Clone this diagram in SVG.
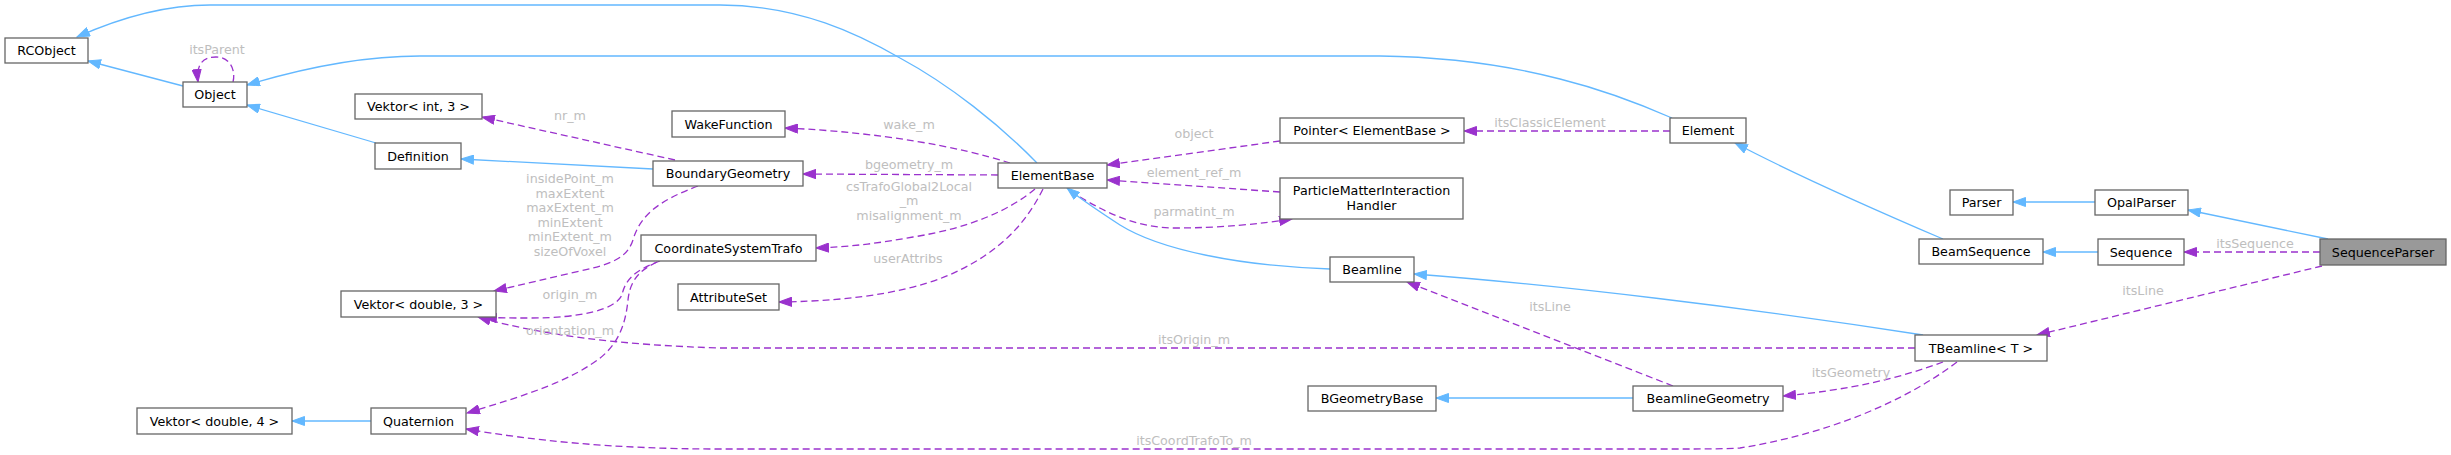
<svg xmlns="http://www.w3.org/2000/svg" width="2451" height="455" viewBox="0 0 2451 455">
<defs>
<style>
.n rect{fill:#fff;stroke:#666;stroke-width:1.3}
.n text{font-family:"DejaVu Sans","Liberation Sans",sans-serif;font-size:12.7px;fill:#000;text-anchor:middle}
.h rect{fill:#999}
.inh{fill:none;stroke:#63b8ff;stroke-width:1.3;marker-end:url(#ab)}
.use{fill:none;stroke:#9a32cd;stroke-width:1.3;stroke-dasharray:7,4;marker-end:url(#ap)}
.lb{font-family:"DejaVu Sans","Liberation Sans",sans-serif;font-size:12.7px;fill:#bebebe;text-anchor:middle}
</style>
<marker id="ab" markerWidth="14" markerHeight="10" refX="13" refY="5" orient="auto" markerUnits="userSpaceOnUse"><path d="M0.5,0.5 L13,5 L0.5,9.5 z" fill="#63b8ff" stroke="#63b8ff" stroke-width="1"/></marker>
<marker id="ap" markerWidth="14" markerHeight="10" refX="13" refY="5" orient="auto" markerUnits="userSpaceOnUse"><path d="M0.5,0.5 L13,5 L0.5,9.5 z" fill="#9a32cd" stroke="#9a32cd" stroke-width="1"/></marker>
</defs>
<rect width="2451" height="455" fill="#fff"/>
<g id="edges">
<path class="inh" d="M183,86 L88,61"/>
<path class="inh" d="M1037,163 C 1000,125 950,85 900,58 C 860,35 800,5 720,5 L 210,5 C 160,5 115,20 77,37"/>
<path class="use" d="M233,82 C 236,70 230,57 216,57 C 203,57 196,64 198,82"/>
<path class="inh" d="M1672,118 C 1640,104 1600,89 1560,79 C 1510,66 1450,57 1380,56 L 420,56 C 360,56 300,69 247,85"/>
<path class="inh" d="M376,143 L247,105"/>
<path class="inh" d="M653,169 L461,159"/>
<path class="use" d="M675,160 L482,117"/>
<path class="use" d="M698,186 C 660,200 640,215 633,240 C 627,258 612,264 580,271 C 550,278 520,285 494,291"/>
<path class="use" d="M1010,163 C 960,147 880,132 785,128"/>
<path class="use" d="M998,175 L803,174"/>
<path class="use" d="M1035,189 C 1010,210 970,228 913,237 C 880,243 850,247 816,248"/>
<path class="use" d="M1043,189 C 1025,225 1000,250 960,270 C 920,290 860,301 779,302"/>
<path class="use" d="M660,261 C 635,270 625,280 622,295 C 615,310 580,318 530,318 C 510,318 495,318 484,317"/>
<path class="use" d="M657,262 C 640,270 630,280 628,300 C 625,330 615,350 590,365 C 560,385 510,400 467,413"/>
<path class="use" d="M1280,141 L1107,165"/>
<path class="use" d="M1280,192 L1107,180"/>
<path class="use" d="M1080,197 C 1110,215 1140,228 1175,228 C 1220,228 1260,224 1292,219"/>
<path class="inh" d="M1330,269 C 1240,266 1160,250 1120,225 C 1100,212 1082,200 1067,188"/>
<path class="use" d="M1670,131 L1464,131"/>
<path class="inh" d="M1943,239 C 1880,212 1790,172 1735,143"/>
<path class="inh" d="M2095,202 L2013,202"/>
<path class="inh" d="M2098,252 L2043,252"/>
<path class="inh" d="M2328,239 L2188,210"/>
<path class="use" d="M2320,252 L2184,252"/>
<path class="use" d="M2322,266 L2037,335"/>
<path class="inh" d="M1923,335 C 1750,308 1560,285 1414,274"/>
<path class="use" d="M1915,348 L 720,348 C 620,345 540,335 478,317"/>
<path class="use" d="M1673,386 L1407,282"/>
<path class="inh" d="M1633,398 L1436,398"/>
<path class="use" d="M1943,362 C 1900,378 1850,390 1783,396"/>
<path class="use" d="M1957,362 C 1920,390 1850,430 1740,448 C 1720,449 1700,449 1680,449 L 720,449 C 610,449 530,440 466,429"/>
<path class="inh" d="M371,421 L292,421"/>
</g>
<g id="labels">
<text class="lb" x="217" y="54">itsParent</text>
<text class="lb" x="570" y="120">nr_m</text>
<text class="lb" x="570" y="183">insidePoint_m</text>
<text class="lb" x="570" y="197.5">maxExtent</text>
<text class="lb" x="570" y="212">maxExtent_m</text>
<text class="lb" x="570" y="226.5">minExtent</text>
<text class="lb" x="570" y="241">minExtent_m</text>
<text class="lb" x="570" y="255.5">sizeOfVoxel</text>
<text class="lb" x="570" y="299">origin_m</text>
<text class="lb" x="570" y="335">orientation_m</text>
<text class="lb" x="909" y="129">wake_m</text>
<text class="lb" x="909" y="169">bgeometry_m</text>
<text class="lb" x="909" y="190.5">csTrafoGlobal2Local</text>
<text class="lb" x="909" y="205">_m</text>
<text class="lb" x="909" y="219.5">misalignment_m</text>
<text class="lb" x="908" y="263">userAttribs</text>
<text class="lb" x="1194" y="138">object</text>
<text class="lb" x="1194" y="177">element_ref_m</text>
<text class="lb" x="1194" y="216">parmatint_m</text>
<text class="lb" x="1550" y="127">itsClassicElement</text>
<text class="lb" x="1550" y="311">itsLine</text>
<text class="lb" x="1194" y="344">itsOrigin_m</text>
<text class="lb" x="1194" y="445">itsCoordTrafoTo_m</text>
<text class="lb" x="1851" y="377">itsGeometry</text>
<text class="lb" x="2255" y="248">itsSequence</text>
<text class="lb" x="2143" y="294.5">itsLine</text>
</g>
<g id="RCObject" class="n"><rect x="5" y="38" width="83" height="25"/><text x="46.5" y="55">RCObject</text></g>
<g id="Object" class="n"><rect x="183" y="82" width="64" height="25"/><text x="215" y="99">Object</text></g>
<g id="VektorInt3" class="n"><rect x="355" y="94" width="127" height="25"/><text x="418.5" y="111">Vektor&lt; int, 3 &gt;</text></g>
<g id="Definition" class="n"><rect x="375" y="143" width="86" height="26"/><text x="418" y="160.5">Definition</text></g>
<g id="BoundaryGeometry" class="n"><rect x="653" y="161" width="150" height="25"/><text x="728" y="178">BoundaryGeometry</text></g>
<g id="WakeFunction" class="n"><rect x="672" y="111" width="113" height="26"/><text x="728.5" y="128.5">WakeFunction</text></g>
<g id="CoordinateSystemTrafo" class="n"><rect x="641" y="235" width="175" height="26"/><text x="728.5" y="252.5">CoordinateSystemTrafo</text></g>
<g id="AttributeSet" class="n"><rect x="678" y="284" width="101" height="26"/><text x="728.5" y="301.5">AttributeSet</text></g>
<g id="VektorDouble3" class="n"><rect x="341" y="291" width="155" height="26"/><text x="418.5" y="308.5">Vektor&lt; double, 3 &gt;</text></g>
<g id="VektorDouble4" class="n"><rect x="137" y="408" width="155" height="26"/><text x="214.5" y="425.5">Vektor&lt; double, 4 &gt;</text></g>
<g id="Quaternion" class="n"><rect x="371" y="408" width="95" height="26"/><text x="418.5" y="425.5">Quaternion</text></g>
<g id="ElementBase" class="n"><rect x="998" y="163" width="109" height="25"/><text x="1052.5" y="180">ElementBase</text></g>
<g id="PointerElementBase" class="n"><rect x="1280" y="118" width="184" height="25"/><text x="1372" y="135">Pointer&lt; ElementBase &gt;</text></g>
<g id="ParticleMatterInteractionHandler" class="n"><rect x="1280" y="178" width="183" height="41"/><text x="1371.5" y="195">ParticleMatterInteraction</text><text x="1371.5" y="209.5">Handler</text></g>
<g id="Element" class="n"><rect x="1670" y="118" width="76" height="25"/><text x="1708" y="135">Element</text></g>
<g id="Parser" class="n"><rect x="1950" y="190" width="63" height="25"/><text x="1981.5" y="207">Parser</text></g>
<g id="OpalParser" class="n"><rect x="2095" y="190" width="93" height="25"/><text x="2141.5" y="207">OpalParser</text></g>
<g id="BeamSequence" class="n"><rect x="1919" y="239" width="124" height="25"/><text x="1981" y="256">BeamSequence</text></g>
<g id="Sequence" class="n"><rect x="2098" y="239" width="86" height="26"/><text x="2141" y="256.5">Sequence</text></g>
<g id="SequenceParser" class="n h"><rect x="2320" y="239" width="126" height="26"/><text x="2383" y="256.5">SequenceParser</text></g>
<g id="TBeamline" class="n"><rect x="1915" y="335" width="132" height="26"/><text x="1981" y="352.5">TBeamline&lt; T &gt;</text></g>
<g id="Beamline" class="n"><rect x="1330" y="257" width="84" height="25"/><text x="1372" y="274">Beamline</text></g>
<g id="BGeometryBase" class="n"><rect x="1308" y="386" width="128" height="25"/><text x="1372" y="403">BGeometryBase</text></g>
<g id="BeamlineGeometry" class="n"><rect x="1633" y="386" width="150" height="25"/><text x="1708" y="403">BeamlineGeometry</text></g>
</svg>
